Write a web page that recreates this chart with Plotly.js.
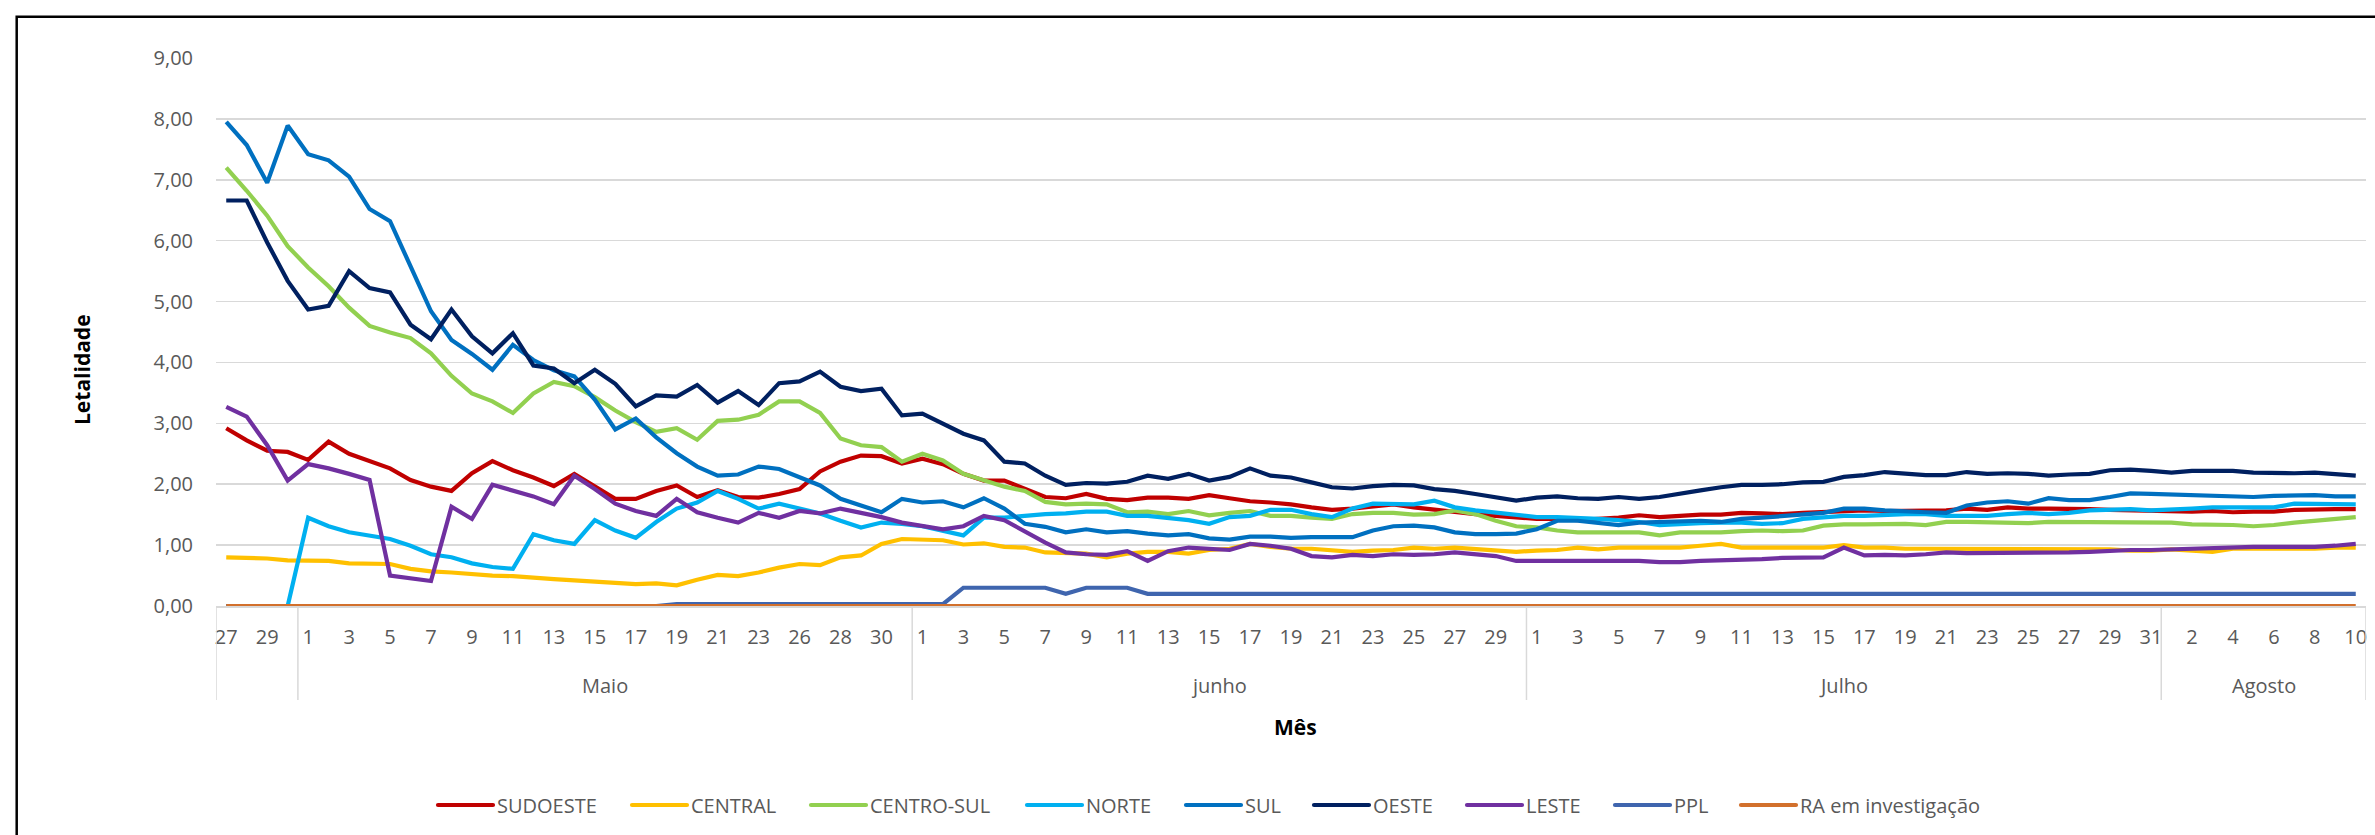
<!DOCTYPE html>
<html>
<head>
<meta charset="utf-8">
<script src="https://cdn.plot.ly/plotly-3.0.1.min.js"></script>
<style>
  html, body { margin: 0; padding: 0; background: #ffffff; }
  #chart { width: 2375px; height: 835px; }
</style>
</head>
<body>
<div id="chart"></div>
<script>
// ---- categories ----
const monthLabels = ['', 'Maio', 'junho', 'Julho', 'Agosto'];
const monthDays = [
  [27, 28, 29, 30],
  [1, 2, 3, 4, 5, 6, 7, 8, 9, 10, 11, 12, 13, 14, 15, 16, 17, 18, 19, 20, 21, 22, 23, 24, 26, 27, 28, 29, 30, 31],
  [1, 2, 3, 4, 5, 6, 7, 8, 9, 10, 11, 12, 13, 14, 15, 16, 17, 18, 19, 20, 21, 22, 23, 24, 25, 26, 27, 28, 29, 30],
  [1, 2, 3, 4, 5, 6, 7, 8, 9, 10, 11, 12, 13, 14, 15, 16, 17, 18, 19, 20, 21, 22, 23, 24, 25, 26, 27, 28, 29, 30, 31],
  [1, 2, 3, 4, 5, 6, 7, 8, 9, 10]
];

// ---- series values ----
const sudoeste = [
  2.92, 2.72, 2.55, 2.53, 2.40, 2.70, 2.50, 2.38, 2.26, 2.07, 1.96, 1.89, 2.18, 2.38, 2.23, 2.11, 1.97, 2.17, 1.96, 1.76, 1.76, 1.89, 1.98, 1.79, 1.90, 1.79,
  1.78, 1.84, 1.92, 2.21, 2.37, 2.47, 2.46, 2.34, 2.42, 2.33, 2.17, 2.06, 2.06, 1.92, 1.79, 1.77, 1.84, 1.76, 1.74, 1.78, 1.78, 1.76, 1.82, 1.77, 1.72, 1.70, 1.67,
  1.62, 1.58, 1.60, 1.64, 1.67, 1.62, 1.58, 1.55, 1.51, 1.48, 1.45, 1.43, 1.43, 1.41, 1.43, 1.45, 1.49, 1.46, 1.48, 1.50, 1.50, 1.53, 1.52, 1.51, 1.53, 1.54,
  1.55, 1.57, 1.56, 1.56, 1.56, 1.57, 1.60, 1.58, 1.62, 1.60, 1.60, 1.60, 1.59, 1.58, 1.57, 1.57, 1.56, 1.55, 1.56, 1.54, 1.55, 1.55, 1.58, 1.59, 1.59, 1.59
];
const central = [
  0.80, 0.79, 0.78, 0.75, 0.74, 0.74, 0.70, 0.69, 0.69, 0.61, 0.57, 0.55, 0.52, 0.50, 0.49, 0.46, 0.44, 0.42, 0.40, 0.38, 0.36, 0.37, 0.34, 0.43, 0.51, 0.49,
  0.55, 0.63, 0.69, 0.67, 0.80, 0.83, 1.02, 1.10, 1.09, 1.08, 1.01, 1.03, 0.97, 0.96, 0.88, 0.87, 0.86, 0.80, 0.86, 0.89, 0.89, 0.86, 0.92, 0.94, 1.02, 0.97, 0.94,
  0.94, 0.91, 0.89, 0.91, 0.92, 0.96, 0.94, 0.96, 0.94, 0.91, 0.89, 0.91, 0.92, 0.96, 0.93, 0.96, 0.96, 0.97, 0.96, 0.99, 1.02, 0.96, 0.96, 0.96, 0.96, 0.96,
  1.00, 0.96, 0.96, 0.94, 0.94, 0.94, 0.94, 0.94, 0.94, 0.94, 0.94, 0.93, 0.93, 0.93, 0.91, 0.91, 0.93, 0.91, 0.89, 0.94, 0.94, 0.94, 0.94, 0.94, 0.96, 0.96
];
const centroSul = [
  7.20, 6.82, 6.41, 5.91, 5.56, 5.25, 4.90, 4.60, 4.49, 4.40, 4.15, 3.78, 3.49, 3.36, 3.17, 3.49, 3.68, 3.61, 3.43, 3.21, 3.02, 2.86, 2.92, 2.73, 3.04, 3.06,
  3.14, 3.36, 3.36, 3.17, 2.75, 2.64, 2.61, 2.37, 2.50, 2.39, 2.17, 2.07, 1.96, 1.89, 1.71, 1.67, 1.68, 1.67, 1.54, 1.55, 1.51, 1.56, 1.49, 1.53, 1.56, 1.48, 1.48,
  1.45, 1.43, 1.51, 1.53, 1.53, 1.50, 1.51, 1.57, 1.51, 1.40, 1.31, 1.29, 1.24, 1.21, 1.21, 1.21, 1.21, 1.16, 1.21, 1.21, 1.21, 1.23, 1.24, 1.23, 1.24, 1.32,
  1.34, 1.34, 1.34, 1.35, 1.33, 1.38, 1.38, 1.37, 1.36, 1.36, 1.38, 1.38, 1.38, 1.38, 1.37, 1.38, 1.37, 1.34, 1.34, 1.33, 1.31, 1.33, 1.37, 1.40, 1.43, 1.46
];
const norte = [
  0.00, 0.00, 0.00, 0.00, 1.45, 1.31, 1.21, 1.16, 1.10, 0.99, 0.85, 0.80, 0.70, 0.64, 0.61, 1.18, 1.08, 1.02, 1.41, 1.24, 1.12, 1.38, 1.60, 1.70, 1.89, 1.76,
  1.60, 1.68, 1.60, 1.52, 1.40, 1.29, 1.37, 1.35, 1.31, 1.23, 1.16, 1.45, 1.45, 1.48, 1.51, 1.52, 1.55, 1.55, 1.48, 1.48, 1.45, 1.41, 1.35, 1.46, 1.48, 1.58, 1.58,
  1.51, 1.46, 1.60, 1.68, 1.67, 1.67, 1.73, 1.62, 1.57, 1.53, 1.49, 1.46, 1.46, 1.45, 1.43, 1.41, 1.38, 1.33, 1.35, 1.36, 1.37, 1.37, 1.35, 1.36, 1.43, 1.46,
  1.48, 1.48, 1.50, 1.51, 1.51, 1.48, 1.48, 1.48, 1.51, 1.53, 1.51, 1.53, 1.57, 1.58, 1.59, 1.57, 1.58, 1.60, 1.62, 1.62, 1.63, 1.62, 1.68, 1.68, 1.68, 1.67
];
const sul = [
  7.95, 7.57, 6.95, 7.89, 7.42, 7.32, 7.05, 6.52, 6.32, 5.60, 4.84, 4.37, 4.14, 3.88, 4.29, 4.04, 3.87, 3.77, 3.39, 2.90, 3.08, 2.77, 2.51, 2.29, 2.14, 2.16,
  2.29, 2.25, 2.12, 1.98, 1.76, 1.65, 1.54, 1.76, 1.70, 1.72, 1.62, 1.77, 1.60, 1.35, 1.30, 1.21, 1.26, 1.21, 1.23, 1.19, 1.16, 1.18, 1.11, 1.09, 1.14, 1.14, 1.12,
  1.13, 1.13, 1.13, 1.24, 1.31, 1.32, 1.29, 1.21, 1.18, 1.18, 1.19, 1.26, 1.40, 1.40, 1.37, 1.33, 1.37, 1.38, 1.40, 1.40, 1.38, 1.43, 1.45, 1.48, 1.51, 1.53,
  1.60, 1.60, 1.57, 1.55, 1.54, 1.53, 1.65, 1.70, 1.72, 1.68, 1.77, 1.74, 1.74, 1.79, 1.85, 1.84, 1.83, 1.82, 1.82, 1.80, 1.79, 1.81, 1.82, 1.82, 1.80, 1.80
];
const oeste = [
  6.66, 6.66, 5.97, 5.34, 4.87, 4.93, 5.50, 5.22, 5.15, 4.62, 4.38, 4.87, 4.43, 4.15, 4.48, 3.95, 3.90, 3.66, 3.88, 3.65, 3.28, 3.46, 3.44, 3.63, 3.34, 3.53,
  3.30, 3.66, 3.69, 3.85, 3.60, 3.53, 3.57, 3.13, 3.16, 3.00, 2.83, 2.72, 2.37, 2.34, 2.14, 1.99, 2.02, 2.01, 2.04, 2.14, 2.09, 2.17, 2.06, 2.12, 2.26, 2.14, 2.11,
  2.03, 1.95, 1.93, 1.97, 1.99, 1.98, 1.92, 1.89, 1.84, 1.79, 1.73, 1.78, 1.80, 1.77, 1.76, 1.79, 1.76, 1.79, 1.85, 1.90, 1.95, 1.99, 1.99, 2.00, 2.03, 2.04,
  2.12, 2.15, 2.20, 2.17, 2.15, 2.15, 2.20, 2.17, 2.18, 2.17, 2.14, 2.16, 2.17, 2.23, 2.24, 2.22, 2.19, 2.22, 2.22, 2.22, 2.19, 2.18, 2.18, 2.19, 2.16, 2.14
];
const leste = [
  3.27, 3.11, 2.64, 2.06, 2.33, 2.26, 2.17, 2.07, 0.50, 0.45, 0.41, 1.63, 1.43, 1.99, 1.90, 1.80, 1.67, 2.14, 1.92, 1.68, 1.56, 1.48, 1.76, 1.54, 1.45, 1.37,
  1.53, 1.45, 1.56, 1.52, 1.60, 1.53, 1.46, 1.37, 1.31, 1.26, 1.31, 1.48, 1.41, 1.23, 1.04, 0.88, 0.85, 0.84, 0.90, 0.74, 0.90, 0.96, 0.94, 0.92, 1.02, 0.99, 0.94,
  0.82, 0.80, 0.84, 0.82, 0.85, 0.84, 0.85, 0.88, 0.85, 0.82, 0.74, 0.74, 0.75, 0.75, 0.75, 0.74, 0.74, 0.72, 0.72, 0.74, 0.75, 0.75, 0.77, 0.79, 0.79, 0.80,
  0.96, 0.83, 0.84, 0.83, 0.85, 0.88, 0.87, 0.87, 0.87, 0.88, 0.88, 0.88, 0.89, 0.91, 0.92, 0.92, 0.93, 0.94, 0.96, 0.97, 0.97, 0.97, 0.97, 0.97, 0.99, 1.02
];
const ppl = [
  0, 0, 0, 0, 0, 0, 0, 0, 0, 0, 0, 0, 0, 0, 0, 0, 0, 0, 0, 0, 0, 0, 0.03, 0.03, 0.03, 0.03,
  0.03, 0.03, 0.03, 0.03, 0.03, 0.03, 0.03, 0.03, 0.03, 0.03, 0.30, 0.30, 0.30, 0.30, 0.30, 0.20, 0.30, 0.30, 0.30, 0.20, 0.20, 0.20, 0.20, 0.20, 0.20, 0.20, 0.20,
  0.20, 0.20, 0.20, 0.20, 0.20, 0.20, 0.20, 0.20, 0.20, 0.20, 0.20, 0.20, 0.20, 0.20, 0.20, 0.20, 0.20, 0.20, 0.20, 0.20, 0.20, 0.20, 0.20, 0.20, 0.20, 0.20,
  0.20, 0.20, 0.20, 0.20, 0.20, 0.20, 0.20, 0.20, 0.20, 0.20, 0.20, 0.20, 0.20, 0.20, 0.20, 0.20, 0.20, 0.20, 0.20, 0.20, 0.20, 0.20, 0.20, 0.20, 0.20, 0.20
];
const raInvestigacao = [
  0, 0, 0, 0, 0, 0, 0, 0, 0, 0, 0, 0, 0, 0, 0, 0, 0, 0, 0, 0, 0, 0, 0, 0, 0, 0,
  0, 0, 0, 0, 0, 0, 0, 0, 0, 0, 0, 0, 0, 0, 0, 0, 0, 0, 0, 0, 0, 0, 0, 0, 0, 0, 0,
  0, 0, 0, 0, 0, 0, 0, 0, 0, 0, 0, 0, 0, 0, 0, 0, 0, 0, 0, 0, 0, 0, 0, 0, 0, 0,
  0, 0, 0, 0, 0, 0, 0, 0, 0, 0, 0, 0, 0, 0, 0, 0, 0, 0, 0, 0, 0, 0, 0, 0, 0, 0
];

const seriesNames = ['SUDOESTE', 'CENTRAL', 'CENTRO-SUL', 'NORTE', 'SUL', 'OESTE', 'LESTE', 'PPL', 'RA em investigação'];
const seriesValues = [sudoeste, central, centroSul, norte, sul, oeste, leste, ppl, raInvestigacao];
const seriesColors = ['#C00000', '#FFC000', '#92D050', '#00B0F0', '#0070C0', '#002060', '#7030A0', '#3F65AE', '#D2702C'];

// ---- build category positions ----
const dayLabels = [];
const groupStart = [];
monthDays.forEach(function (arr) {
  groupStart.push(dayLabels.length);
  arr.forEach(function (d) { dayLabels.push(String(d)); });
});
const N = dayLabels.length;
const xIdx = dayLabels.map(function (_, i) { return i; });

const tickvals = [], ticktext = [];
for (let i = 0; i < N; i += 2) { tickvals.push(i); ticktext.push(dayLabels[i]); }

// plot geometry (px)
const W = 2375, H = 835;
const L = 216, R = 9, T = 58, B = 229;
const PW = W - L - R, PH = H - T - B;
function px2py(yPix) { return (H - B - yPix) / PH; }
function px2px(xPix) { return (xPix - L) / PW; }

const grey = '#595959';
const font = 'Open Sans, Liberation Sans, sans-serif';

// legend symbol start positions (px) of each entry, one legend per series
const legendSymbolStart = [438, 632, 811, 1027, 1186, 1314, 1467, 1615, 1741];

const traces = seriesNames.map(function (name, k) {
  return {
    type: 'scatter', mode: 'lines', name: name,
    x: xIdx, y: seriesValues[k],
    line: { color: seriesColors[k], width: 4.2 },
    legend: k === 0 ? 'legend' : 'legend' + (k + 1),
    hoverinfo: 'skip'
  };
});

const shapes = [];
const bounds = [-0.5];
for (let g = 1; g < groupStart.length; g++) bounds.push(groupStart[g] - 0.5);
bounds.push(N - 0.5);
bounds.forEach(function (b) {
  shapes.push({ type: 'line', xref: 'x', yref: 'paper', x0: b, x1: b, y0: 0, y1: px2py(700),
    line: { color: '#D9D9D9', width: 1.5 } });
});
shapes.push({ type: 'rect', xref: 'paper', yref: 'paper',
  x0: px2px(16.7), x1: px2px(2420), y0: px2py(900), y1: px2py(16.7),
  line: { color: '#000000', width: 2.5 }, fillcolor: 'rgba(0,0,0,0)', layer: 'above' });

const annotations = [];
for (let g = 0; g < monthLabels.length; g++) {
  if (!monthLabels[g]) continue;
  const s = groupStart[g], e = s + monthDays[g].length - 1;
  annotations.push({ xref: 'x', yref: 'paper', x: (s + e) / 2, y: px2py(685), text: monthLabels[g],
    showarrow: false, xanchor: 'center', yanchor: 'middle', font: { family: font, size: 20, color: grey } });
}
annotations.push({ xref: 'paper', yref: 'paper', x: px2px(1295), y: px2py(727), text: '<b>Mês</b>',
  showarrow: false, xanchor: 'center', yanchor: 'middle', font: { family: font, size: 21, color: '#000000' } });
annotations.push({ xref: 'paper', yref: 'paper', x: px2px(82), y: px2py(370), text: '<b>Letalidade</b>', textangle: -90,
  showarrow: false, xanchor: 'center', yanchor: 'middle', font: { family: font, size: 21, color: '#000000' } });

const layout = {
  width: W, height: H,
  margin: { l: L, r: R, t: T, b: B, pad: 0 },
  paper_bgcolor: '#ffffff', plot_bgcolor: '#ffffff',
  separators: ',.',
  showlegend: true,
  xaxis: {
    range: [-0.5, N - 0.5], tickmode: 'array', tickvals: tickvals, ticktext: ticktext,
    showgrid: false, zeroline: false, showline: true, linecolor: '#D9D9D9', linewidth: 1.5,
    ticks: '', ticklabelstandoff: 12,
    tickfont: { family: font, size: 20, color: grey }, fixedrange: true
  },
  yaxis: {
    range: [0, 9], tickmode: 'array', tickvals: [0, 1, 2, 3, 4, 5, 6, 7, 8, 9], tickformat: '.2f',
    showgrid: true, gridcolor: '#D9D9D9', gridwidth: 1.5, zeroline: false, showline: false,
    ticks: '', ticklabelstandoff: 22,
    tickfont: { family: font, size: 20, color: grey }, fixedrange: true
  },
  shapes: shapes,
  annotations: annotations
};
legendSymbolStart.forEach(function (xs, k) {
  const key = k === 0 ? 'legend' : 'legend' + (k + 1);
  layout[key] = {
    orientation: 'h', x: px2px(xs - 5), xanchor: 'left', y: px2py(805), yanchor: 'middle',
    font: { family: font, size: 20, color: grey }, itemwidth: 54,
    bgcolor: 'rgba(0,0,0,0)', borderwidth: 0
  };
});

Plotly.newPlot('chart', traces, layout, { displayModeBar: false, staticPlot: true }).then(function (gd) {
  // lengthen the legend line symbols to match the reference keys
  gd.querySelectorAll('.legendlines path').forEach(function (p) {
    p.setAttribute('d', 'M5,0h55');
    p.style.strokeLinecap = 'round';
  });
});
</script>
</body>
</html>
